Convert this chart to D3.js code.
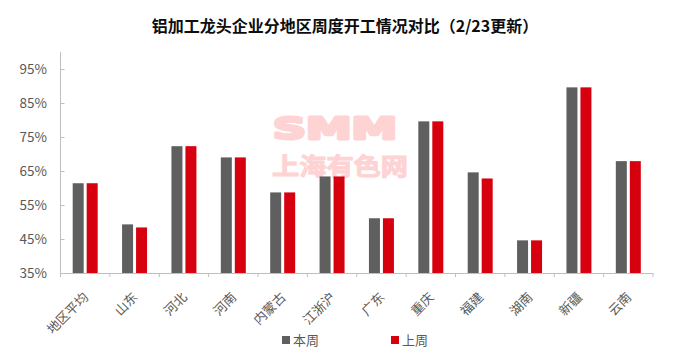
<!DOCTYPE html>
<html><head><meta charset="utf-8">
<script src="https://cdn.jsdelivr.net/npm/d3@7"></script>
<style>
html,body{margin:0;padding:0;background:#fff;}
svg{display:block;font-family:"Noto Sans CJK SC","Noto Sans",sans-serif;}
</style></head>
<body>
<svg id="c" width="681" height="355"></svg>
<script>
const categories = ["地区平均","山东","河北","河南","内蒙古","江浙沪","广东","重庆","福建","湖南","新疆","云南"];
const seriesNames = ["本周","上周"];
const thisWeek = [61.4, 49.3, 72.3, 69.0, 58.7, 63.4, 51.1, 79.6, 64.6, 44.6, 89.6, 67.9];
const lastWeek = [61.4, 48.4, 72.3, 69.0, 58.7, 63.4, 51.1, 79.6, 62.8, 44.6, 89.6, 67.9];
const yTicks = [35, 45, 55, 65, 75, 85, 95];
const title = "铝加工龙头企业分地区周度开工情况对比（2/23更新）";
const colors = {"本周":"#5f5f5f","上周":"#d7000f"};

const svg = d3.select("#c");
const mLeft = 60.5, mRight = 653, mTop = 52, mBottom = 273;

// title
svg.append("text").attr("x", 345).attr("y", 32).attr("text-anchor","middle")
  .attr("font-size", 16).attr("font-weight","bold").attr("fill","#0d0d0d").text(title);

// watermark
svg.append("text").attr("x", 273).attr("y", 139)
  .attr("font-family","DejaVu Sans").attr("font-weight","bold").attr("font-size", 30)
  .attr("textLength", 124).attr("lengthAdjust","spacingAndGlyphs")
  .attr("fill","#fdd3d3").attr("stroke","#fdd3d3").attr("stroke-width",3).attr("stroke-linejoin","round")
  .text("SMM");
svg.append("text").attr("x", 272).attr("y", 175)
  .attr("font-weight","bold").attr("font-size", 24)
  .attr("textLength", 136).attr("lengthAdjust","spacingAndGlyphs")
  .attr("fill","#fdd3d3").attr("stroke","#fdd3d3").attr("stroke-width",1)
  .text("上海有色网");

const x = d3.scaleBand().domain(categories).range([mLeft, mRight]).paddingInner(0.494).paddingOuter(0.247);
const x1 = d3.scaleBand().domain(seriesNames).range([0, x.bandwidth()]).paddingInner(0.214);
const y = d3.scaleLinear().domain([35, 100]).range([mBottom, mTop]);

const data = categories.map((c,i)=>({cat:c, vals:[{s:"本周",v:thisWeek[i]},{s:"上周",v:lastWeek[i]}]}));

const g = svg.append("g");
g.selectAll("g.cat").data(data).join("g").attr("class","cat")
  .attr("transform", d=>`translate(${x(d.cat)},0)`)
  .selectAll("rect").data(d=>d.vals).join("rect")
  .attr("x", d=>x1(d.s)).attr("width", x1.bandwidth())
  .attr("y", d=>y(d.v)).attr("height", d=>y(35)-y(d.v))
  .attr("fill", d=>colors[d.s]);

// y axis
const yAxis = svg.append("g").attr("transform",`translate(${mLeft},0)`)
  .call(d3.axisRight(y).tickValues(yTicks).tickSize(4).tickFormat(""));
yAxis.select(".domain").attr("stroke","#bfbfbf").attr("d", `M0,${mTop}V${mBottom}`);
yAxis.selectAll(".tick line").attr("stroke","#bfbfbf");
svg.append("g").selectAll("text").data(yTicks).join("text")
  .attr("x", 47).attr("y", d=>y(d)).attr("dy","0.36em").attr("text-anchor","end")
  .attr("font-size", 13.5).attr("fill","#595959").text(d=>d+"%");

// x axis
const xAxis = svg.append("g").attr("transform",`translate(0,${mBottom})`)
  .call(d3.axisBottom(x).tickSize(0).tickFormat(""));
xAxis.select(".domain").attr("stroke","#bfbfbf").attr("d", `M${mLeft},0.5H${mRight}`);
xAxis.selectAll(".tick").remove();
const step = x.step();
const bounds = d3.range(categories.length+1).map(i=>mLeft + i*step);
xAxis.selectAll("line.b").data(bounds).join("line").attr("class","b")
  .attr("x1", d=>d).attr("x2", d=>d).attr("y1",0).attr("y2",4).attr("stroke","#bfbfbf");

svg.append("g").selectAll("text").data(categories).join("text")
  .attr("transform", d=>`translate(${x(d)+x.bandwidth()/2+4},${mBottom+25}) rotate(-45)`)
  .attr("text-anchor","end")
  .attr("font-size", 13).attr("fill","#595959").text(d=>d);

// legend
const leg = svg.append("g");
const legX = [282, 391];
seriesNames.forEach((s,i)=>{
  leg.append("rect").attr("x", legX[i]).attr("y", 336).attr("width", 8).attr("height", 8).attr("fill", colors[s]);
  leg.append("text").attr("x", legX[i]+11).attr("y", 340).attr("dy","0.36em")
    .attr("font-size", 13).attr("fill","#595959").text(s);
});
</script>
</body></html>
